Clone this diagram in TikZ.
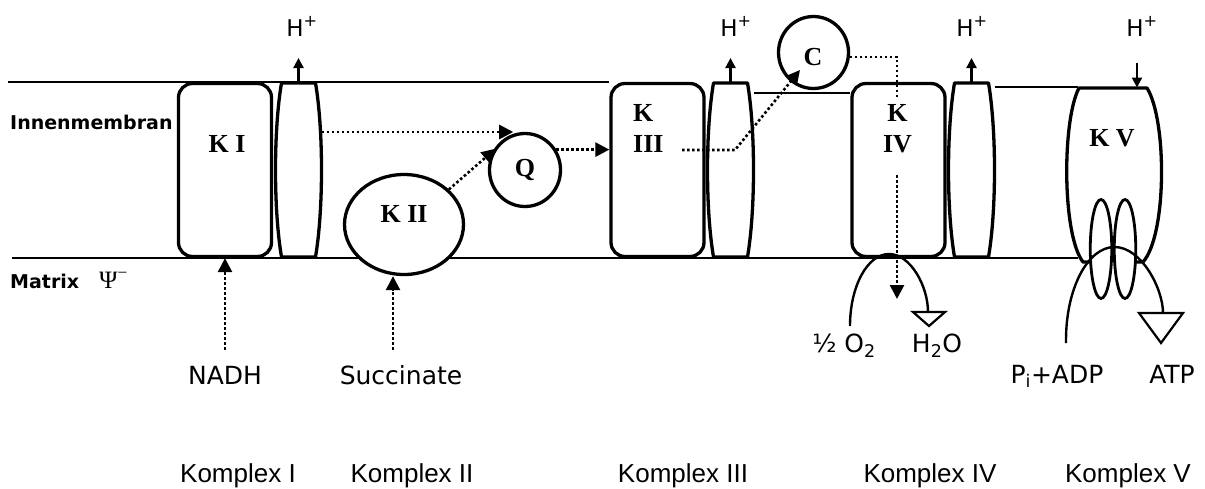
\documentclass[tikz,border=0pt]{standalone}
\usepackage{fontspec}
\setmainfont{Liberation Serif}
\newfontfamily\dv{DejaVu Sans}
\newfontfamily\ar{Liberation Sans}
\newfontfamily\tn{Liberation Serif}
\usetikzlibrary{arrows.meta,shapes.geometric,calc}
\tikzset{
 membrane/.style={line width=1.7pt},
 cbox/.style={draw, line width=3.3pt, fill=white, rounded corners=14pt, minimum width=93pt, minimum height=173pt, inner sep=0pt},
 blob/.style={draw, ellipse, line width=3.3pt, fill=white, inner sep=0pt},
 klabel/.style={font=\tn\bfseries\fontsize{26}{31}\selectfont, inner sep=0pt},
 sanslabel/.style={font=\dv\fontsize{25}{30}\selectfont, inner sep=0pt, anchor=base},
 hlabel/.style={font=\dv\fontsize{23}{26}\selectfont, inner sep=0pt, anchor=base},
 kompl/.style={font=\ar\fontsize{26}{30}\selectfont, inner sep=0pt, anchor=base},
 sidetext/.style={font=\dv\bfseries\fontsize{19}{22}\selectfont, inner sep=0pt, anchor=base west},
 dotline/.style={line width=2.6pt, dash pattern=on 2.6pt off 2.4pt},
 flow/.style={dotline, -{Triangle[length=14pt,width=14pt]}},
 hflow/.style={line width=2.2pt, -{Triangle[length=10pt,width=10pt]}},
 arcline/.style={line width=2.4pt},
 tri/.style={line width=2.2pt, line join=miter},
 barrel/.pic={
  \draw[line width=3.3pt, fill=white, line join=round] (-17,-87) -- (17,-87) .. controls (25,-40) and (25,40) .. (17,87) -- (-17,87) .. controls (-25,40) and (-25,-40) .. (-17,-87) -- cycle;
  \coordinate (-top) at (0,-87);
  \coordinate (-r) at (23,-38);
 }
}
\begin{document}
\begin{tikzpicture}[x=1pt,y=-1pt]
\useasboundingbox (0,0) rectangle (1205,488);
% membranes
\draw[membrane] (8,82) -- (609,82);
\draw[membrane] (754,93) -- (850,93);
\draw[membrane] (995,87) -- (1078,87);
\draw[membrane] (12,258) -- (1078,258);
% complexes
\node[cbox] (K1) at (225,170) {};
\node[cbox] (K3) at (657.5,170) {};
\node[cbox] (K4) at (898.5,170) {};
\pic (b1) at (298.5,170) {barrel};
\pic (b3) at (730.5,170) {barrel};
\pic (b4) at (971.5,170) {barrel};
\node[blob, minimum width=119pt, minimum height=100pt] (K2) at (404,224.5) {};
\node[blob, minimum width=71pt, minimum height=73pt] (Q) at (525,170) {};
\node[blob, minimum width=70pt, minimum height=72pt] (C) at (813.5,52.5) {};
\draw[line width=3.3pt, fill=white, line join=round] (1090,262) -- (1083,262) .. controls (1062,235) and (1062,120) .. (1079,88) -- (1147,88) .. controls (1167,120) and (1167,235) .. (1143,262) -- (1136,262);
\node[blob, line width=2.8pt, minimum width=21.5pt, minimum height=99pt] (E1) at (1101,249) {};
\node[blob, line width=2.8pt, minimum width=21.5pt, minimum height=99pt] (E2) at (1125,249) {};
% labels in complexes
\node[klabel, anchor=base] (tK1) at (227,152.7) {K I};
\node[klabel, anchor=base] (tK2) at (404,222.7) {K II};
\node[klabel, anchor=base] (tQ) at (525,176.7) {Q};
\node[klabel, anchor=base] (tC) at (813,65) {C};
\node[klabel, align=left, anchor=north west] (tK3) at (633,104) {K\\III};
\node[klabel, align=center, anchor=north] (tK4) at (897.5,104) {K\\IV};
\node[klabel, anchor=base] (tK5) at (1112,146.7) {K V};
% side labels
\node[sidetext] (inn) at (10,129.3) {Innenmembran};
\node[sidetext] (mat) at (10,288) {Matrix};
\node[font=\tn\fontsize{25}{28}\selectfont, inner sep=0pt, anchor=base west] (psi) at (99,288) {Ψ\textsuperscript{−}};
% H+ labels
\node[hlabel] (h1) at (302,36) {H\textsuperscript{+}};
\node[hlabel] (h3) at (736,36) {H\textsuperscript{+}};
\node[hlabel] (h4) at (972,36) {H\textsuperscript{+}};
\node[hlabel] (h5) at (1142,36) {H\textsuperscript{+}};
% substrates
\node[sanslabel] (NADH) at (225,384) {NADH};
\node[sanslabel] (Succ) at (401,384) {Succinate};
\node[sanslabel] (O2) at (844,352.7) {½ O\textsubscript{2}};
\node[sanslabel] (H2O) at (937,352.7) {H\textsubscript{2}O};
\node[sanslabel] (ADP) at (1057,383) {P\textsubscript{i}+ADP};
\node[sanslabel] (ATP) at (1172,383) {ATP};
% Komplex labels
\node[kompl] (L1) at (238,482) {Komplex I};
\node[kompl] (L2) at (412,482) {Komplex II};
\node[kompl] (L3) at (683,482) {Komplex III};
\node[kompl] (L4) at (930,482) {Komplex IV};
\node[kompl] (L5) at (1128,482) {Komplex V};
% electron flow
\coordinate (lvl) at (0,350);
\coordinate (sx) at (393,0);
\draw[flow] (NADH.north |- lvl) -- (K1.south);
\draw[flow] (sx |- lvl) -- (sx |- K2.south);
\draw[flow] (b1-r) -- (b1-r -| Q.108);
\draw[flow, shorten >=-4pt] (K2.38) -- (Q.150);
\draw[flow] (Q.33) -- (Q.33 -| K3.west);
\coordinate (k3s) at (682,150);
\coordinate (k3b) at (735,150);
\coordinate (ctip) at (800,70);
\draw[flow] (k3s) -- (k3b) -- (ctip);
\coordinate (k4a) at (897,97);
\coordinate (k4b) at (897,175);
\coordinate (k4tip) at (897,299);
\draw[dotline] (C.-7) -| (k4a);
\draw[flow] (k4b) -- (k4tip);
% proton arrows
\draw[hflow] (b1-top) -- ++(0,-25);
\draw[hflow] (b3-top) -- ++(0,-25);
\draw[hflow] (b4-top) -- ++(0,-25);
\coordinate (k5top) at (1137,87.5);
\draw[hflow] (k5top) ++(0,-25) -- (k5top);
% reactions
\draw[arcline] (850,326) .. controls (850,286.2) and (867.5,254) .. (889,254) .. controls (910.5,254) and (928,286.2) .. (928,312);
\draw[tri] (913,312) -- (945,312) -- (929,326) -- cycle;
\draw[arcline] (1066,343) -- (1066,340) .. controls (1066,288.6) and (1087.7,247) .. (1114.5,247) .. controls (1141.3,247) and (1163,288.6) .. (1163,313);
\draw[tri] (1139,313) -- (1183,313) -- (1161,343) -- cycle;
\end{tikzpicture}
\end{document}
